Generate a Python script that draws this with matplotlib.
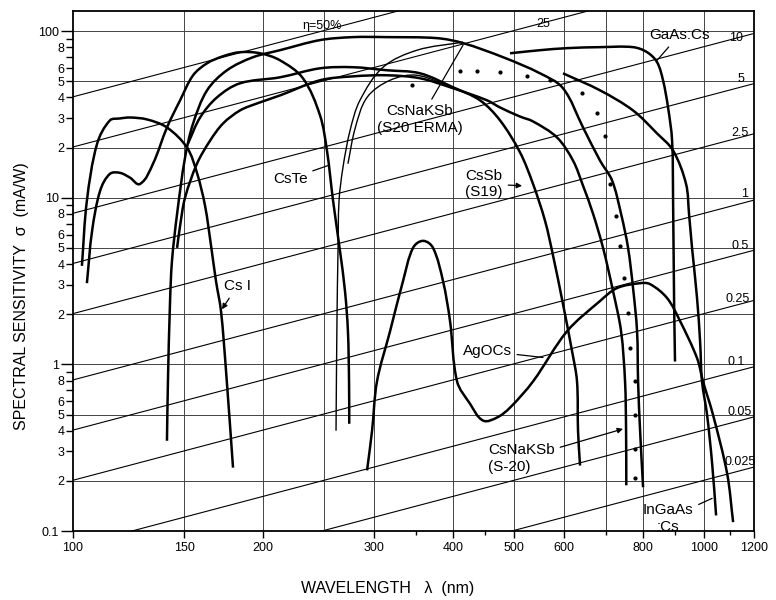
import matplotlib
matplotlib.use("Agg")
import matplotlib.pyplot as plt
from matplotlib.path import Path
from matplotlib.patches import PathPatch
import numpy as np

plt.rcParams['font.family'] = ['Liberation Sans', 'DejaVu Sans']

# ---------------- data (wavelength nm, sensitivity mA/W) ----------------
csi_wl = [103.3, 105.2, 109.2, 114.4, 118.7, 123.1, 131.0, 140.9, 151.6, 157.2,
          161.9, 165.5, 168.5, 171.6, 174.8, 179.3]
csi_s = [3.9, 9.6, 21.1, 29.1, 29.9, 30.3, 29.5, 26.4, 20.0, 14.1,
         8.95, 5.14, 3.16, 2.09, 0.91, 0.24]

cste_wl = [105.2, 107.2, 110.4, 114.4, 118.7, 123.1, 127.7, 133.9, 140.9, 147.8,
           155.0, 163.1, 173.0, 183.9, 197.9, 212.8, 231.4, 246.3, 252.6, 258.3,
           264.9, 269.8, 272.7, 273.8, 274.0]
cste_s = [3.07, 6.3, 11.0, 13.9, 14.1, 13.2, 12.1, 16.0, 26.4, 38.4,
          54.3, 64.1, 70.7, 74.7, 73.6, 66.8, 52.1, 31.2, 19.2, 9.6,
          4.8, 2.75, 1.58, 0.79, 0.44]

erma_wl = [140.9, 141.4, 142.5, 143.5, 146.2, 150.5, 155.0, 163.1, 175.4, 192.9,
           212.8, 246.3, 277.8, 314.5, 377.5, 415.1, 480.3, 549.6, 597.7, 643.1,
           684.2, 714.9, 738.8, 757.9, 771.8, 783.2, 786.1, 791.9, 800.6]
erma_s = [0.348, 0.79, 2.4, 4.17, 8.0, 17.4, 27.9, 44.1, 58.2, 69.7,
          76.8, 88.3, 92.0, 92.0, 90.7, 84.7, 69.7, 55.8, 45.4, 26.4,
          16.7, 12.7, 8.0, 5.0, 2.87, 1.58, 0.79, 0.40, 0.183]

erma_glass_wl = [261.1, 262.0, 263.0, 264.0, 267.8, 274.8, 284.9, 310.0, 350.9, 415.1]
erma_glass_s = [0.40, 1.82, 4.8, 9.6, 15.2, 25.3, 38.4, 60.7, 76.8, 85.9]

s20_glass_wl = [272.7, 279.9, 292.4, 318.0, 350.9, 400.2]
s20_glass_s = [16.0, 26.0, 40.0, 50.7, 54.3, 45.4]

cssb_wl = [152.1, 159.0, 169.1, 183.9, 212.8, 246.3, 277.8, 314.5, 354.8, 400.2,
           441.6, 475.1, 511.0, 535.8, 559.8, 576.6, 597.7, 617.8, 629.1, 631.4, 636.1]
cssb_s = [21.1, 30.3, 40.0, 48.6, 52.8, 59.8, 60.7, 58.2, 55.8, 46.0,
          38.4, 29.1, 18.7, 12.1, 7.27, 4.47, 2.3, 1.20, 0.79, 0.40, 0.247]

s20_wl = [146.2, 147.8, 150.5, 157.2, 164.9, 172.9, 183.9, 195.7, 212.8, 246.3,
          277.8, 314.5, 354.8, 400.2, 453.1, 475.1, 511.0, 535.8, 584.8, 620.0,
          643.1, 667.1, 691.8, 717.5, 738.8, 749.6, 752.4, 753.0]
s20_s = [5.0, 6.78, 10.0, 16.0, 22.0, 27.9, 33.4, 36.8, 41.1, 50.7,
         53.5, 54.3, 52.1, 45.4, 38.4, 34.8, 30.7, 28.7, 23.0, 16.7,
         11.8, 8.0, 5.0, 2.75, 1.58, 0.79, 0.40, 0.188]

dot_wl = [344.5, 410.6, 436.8, 475.1, 524.2, 570.1, 640.8, 676.8, 696.8, 709.6,
          725.4, 736.1, 746.8, 757.9, 763.5, 777.5, 777.5, 777.5, 777.5]
dot_s = [47.3, 57.4, 57.4, 56.6, 53.5, 50.7, 42.3, 32.1, 23.6, 12.1,
         7.8, 5.14, 3.3, 2.03, 1.25, 0.79, 0.50, 0.312, 0.207]

gaas_wl = [492.7, 549.6, 606.6, 684.2, 771.8, 812.4, 842.6, 861.0, 877.0, 890.0,
           893.2, 896.5, 899.5]
gaas_s = [73.6, 76.8, 79.0, 80.1, 80.1, 74.7, 65.0, 50.7, 34.8, 22.0,
          9.6, 2.4, 1.04]

ingaas_wl = [597.7, 684.2, 771.8, 842.6, 893.2, 936.5, 946.7, 957.2, 974.8, 985.6,
             992.7, 1011, 1030, 1045]
ingaas_s = [55.8, 44.1, 33.4, 24.3, 19.2, 12.1, 8.0, 5.0, 2.5, 1.38,
            0.79, 0.50, 0.254, 0.124]

agocs_wl = [292.4, 297.8, 303.2, 318.0, 333.4, 345.8, 358.7, 372.0, 385.8,
            395.8, 406.1, 425.8, 446.5, 469.9, 492.7, 535.8, 606.6, 684.2, 728.0,
            791.9, 821.3, 873.8, 916.2, 974.8, 996.3, 1033, 1088, 1112]
agocs_s = [0.231, 0.40, 0.79, 1.58, 3.16, 5.0, 5.51, 5.0, 3.16,
           1.82, 0.79, 0.58, 0.46, 0.48, 0.55, 0.79, 1.58, 2.4, 2.87,
           3.07, 3.03, 2.5, 1.82, 1.09, 0.79, 0.50, 0.221, 0.113]

# quantum-efficiency reference lines (percent)
eta_vals = [50, 25, 10, 5, 2.5, 1, 0.5, 0.25, 0.1, 0.05, 0.025]
eta_labels = ['η=50%', '25', '10', '5', '2.5', '1', '0.5', '0.25', '0.1', '0.05', '0.025']
eta_wl_range = [100, 1200]

xtick_vals = [100, 150, 200, 300, 400, 500, 600, 800, 1000, 1200]
xtick_labels = ['100', '150', '200', '300', '400', '500', '600', '800', '1000', '1200']
xminor_vals = [350, 450, 700, 900, 1100]

ymajor_vals = [0.1, 1, 10, 100]
ymajor_labels = ['0.1', '1', '10', '100']
ydigits = [2, 3, 4, 5, 6, 7, 8, 9]
ydigit_labels = ['2', '3', '4', '5', '6', '', '8', '']

xgrid_vals = [150, 200, 250, 300, 400, 500, 600, 700, 800, 1000]
ygrid_vals = [0.2, 0.5, 1, 2, 5, 10, 20, 50, 100]

# ---------------- figure ----------------
fig = plt.figure(figsize=(7.76, 6.0), dpi=100)
ax = fig.add_axes([73 / 776, 1 - 531 / 600, (754 - 73) / 776, (531 - 11) / 600])
ax.set_xscale('log')
ax.set_yscale('log')
ax.set_xlim(100, 1200)
ax.set_ylim(0.1, 132)

# grid
for gx in xgrid_vals:
    ax.axvline(gx, color='#444444', lw=0.7, zorder=1)
for gy in ygrid_vals:
    ax.axhline(gy, color='#444444', lw=0.7, zorder=1)

# QE lines
wl_r = np.array(eta_wl_range, dtype=float)
for eta in eta_vals:
    ax.plot(wl_r, eta * wl_r / 124.0, color='k', lw=0.8, zorder=2)

# QE labels (layout positions)
eta_label_pos = [(248, 108), (556, 110), (1122, 91), (1145, 51.5), (1140, 24.3),
                 (1160, 10.5), (1140, 5.15), (1130, 2.48), (1125, 1.03),
                 (1140, 0.515), (1140, 0.258)]
for lab_txt, (px, py) in zip(eta_labels, eta_label_pos):
    ax.text(px, py, lab_txt, fontsize=9, ha='center', va='center', zorder=4)


def smooth_curve(wl, s, **kw):
    """Draw a smooth line through the read points (Bezier segments built in the
    log-log display proportion), rendered through the axes' log scales."""
    sx, sy = 631.0, 166.0
    P = np.column_stack([np.log10(wl) * sx, np.log10(s) * sy])
    n = len(P)
    T = np.zeros_like(P)
    for i in range(n):
        if i == 0:
            d = P[1] - P[0]
        elif i == n - 1:
            d = P[-1] - P[-2]
        else:
            d = P[i + 1] - P[i - 1]
        nrm = np.hypot(*d)
        T[i] = d / nrm if nrm > 0 else 0
    verts = [P[0]]
    codes = [Path.MOVETO]
    for i in range(n - 1):
        L = np.hypot(*(P[i + 1] - P[i]))
        c1 = P[i] + T[i] * L / 3.0
        c2 = P[i + 1] - T[i + 1] * L / 3.0
        verts += [c1, c2, P[i + 1]]
        codes += [Path.CURVE4] * 3
    V = np.array(verts)
    V = np.column_stack([10 ** (V[:, 0] / sx), 10 ** (V[:, 1] / sy)])
    patch = PathPatch(Path(V, codes), fill=False, transform=ax.transData, **kw)
    patch.set_capstyle('butt')
    patch.set_joinstyle('round')
    ax.add_patch(patch)


thick = dict(edgecolor='k', lw=1.8, zorder=3)
thin = dict(edgecolor='k', lw=1.0, zorder=3)
smooth_curve(csi_wl, csi_s, **thick)
smooth_curve(cste_wl, cste_s, **thick)
smooth_curve(erma_wl, erma_s, **thick)
smooth_curve(erma_glass_wl, erma_glass_s, **thin)
smooth_curve(s20_glass_wl, s20_glass_s, **thin)
smooth_curve(cssb_wl, cssb_s, **thick)
smooth_curve(s20_wl, s20_s, **thick)
smooth_curve(gaas_wl, gaas_s, **thick)
smooth_curve(ingaas_wl, ingaas_s, **thick)
smooth_curve(agocs_wl, agocs_s, **thick)
ax.plot(dot_wl, dot_s, linestyle='none', marker='o', ms=2.0, color='k', zorder=3)

# curve labels
fs = 11
lw_a = 0.9


def lab(text, xy, xyt, head=False, ha='center', ma='center'):
    style = '-|>' if head else '-'
    ax.annotate(text, xy=xy, xytext=xyt, textcoords='data', fontsize=fs,
                ha=ha, va='center', multialignment=ma, zorder=5,
                arrowprops=dict(arrowstyle=style, lw=lw_a, color='k',
                                shrinkA=2, shrinkB=0, mutation_scale=8))


lab('Cs I', (172.2, 2.14), (182.0, 2.95), head=True)
lab('CsTe', (253.6, 15.6), (220.8, 13.0))
lab('CsNaKSb\n(S20 ERMA)', (415.1, 82.4), (354.8, 29.5))
lab('CsSb\n(S19)', (514.8, 11.8), (448.0, 12.1), head=True)
lab('AgOCs', (555.6, 1.10), (453.1, 1.20))
lab('CsNaKSb\n(S-20)', (744.1, 0.41), (454.8, 0.272), head=True, ha='left', ma='left')
lab('GaAs:Cs', (842.6, 66.8), (912.8, 94.6))
lab('InGaAs\n:Cs', (1030, 0.157), (877.0, 0.119))

# ticks
ax.set_xticks(xtick_vals, labels=xtick_labels)
ax.set_xticks(xminor_vals, labels=[''] * len(xminor_vals), minor=True)
ax.set_yticks(ymajor_vals, labels=ymajor_labels)
yminor_vals, yminor_labels = [], []
for dec in [0.1, 1, 10]:
    for d, l in zip(ydigits, ydigit_labels):
        yminor_vals.append(d * dec)
        yminor_labels.append(l)
ax.set_yticks(yminor_vals, labels=yminor_labels, minor=True)

ax.tick_params(axis='both', which='both', direction='out', colors='k',
               labelsize=9, width=1.0)
ax.tick_params(axis='y', which='major', length=9, pad=1)
ax.tick_params(axis='y', which='minor', length=5, pad=1)
ax.tick_params(axis='x', which='major', length=5, pad=3)
ax.tick_params(axis='x', which='minor', length=3)

for sp in ax.spines.values():
    sp.set_linewidth(1.3)
    sp.set_color('k')

fig.text(22 / 776, 1 - 296 / 600, 'SPECTRAL SENSITIVITY  σ  (mA/W)', rotation=90,
         fontsize=11.5, ha='center', va='center')
fig.text(388 / 776, 1 - 588 / 600, 'WAVELENGTH   λ  (nm)', fontsize=11.5,
         ha='center', va='center')

fig.savefig('out.png', dpi=100)
